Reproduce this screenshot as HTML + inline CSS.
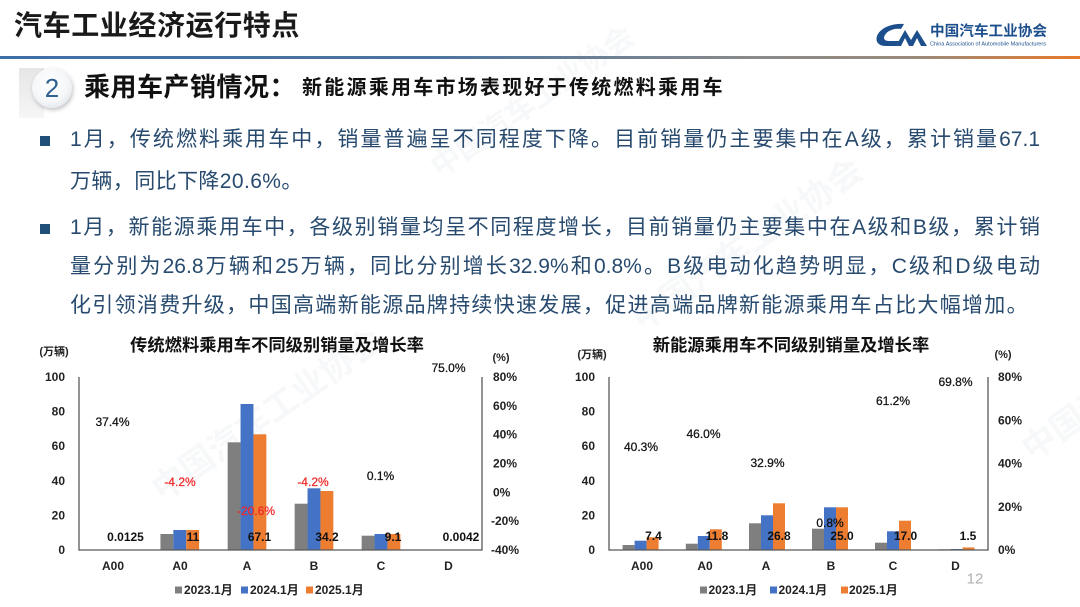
<!DOCTYPE html>
<html><head><meta charset="utf-8">
<style>
*{margin:0;padding:0;box-sizing:border-box;}
html,body{width:1080px;height:607px;overflow:hidden;background:#fff;}
body{position:relative;font-family:"Liberation Sans","Noto Sans CJK SC",sans-serif;}
.abs{position:absolute;line-height:1;white-space:nowrap;}
.body{position:absolute;left:70px;width:970px;font-size:21px;line-height:1;color:#274a6e;}
.just{text-align:justify;text-align-last:justify;}
.bul{position:absolute;left:40px;width:10px;height:10px;background:#1f4e79;}
.wm{position:absolute;color:rgba(120,135,150,0.06);font-weight:bold;white-space:nowrap;transform-origin:left top;}
</style></head>
<body>
<!-- watermarks -->
<div class="wm" style="left:140px;top:470px;font-size:34px;transform:rotate(-35deg);">中国汽车工业协会</div>
<div class="wm" style="left:620px;top:300px;font-size:34px;transform:rotate(-35deg);">中国汽车工业协会</div>
<div class="wm" style="left:420px;top:150px;font-size:30px;transform:rotate(-35deg);">中国汽车工业协会</div>
<div class="wm" style="left:1010px;top:430px;font-size:34px;transform:rotate(-35deg);">中国汽车</div>

<!-- header -->
<div class="abs" style="left:14px;top:12px;font-size:28px;font-weight:bold;color:#1a1a1a;letter-spacing:0.6px;">汽车工业经济运行特点</div>
<div style="position:absolute;left:0;top:56px;width:1080px;height:3px;background:linear-gradient(90deg,#3e6fa6 0%,#4c74a0 40%,#8a8a8a 70%,#9a8a7a 85%,#e8792a 100%);"></div>

<!-- logo -->
<svg style="position:absolute;left:874px;top:18px;" width="180" height="34" viewBox="0 0 180 34">
  <path d="M30,6 C18,5 6,10 3,18 C1,24 5,28 12,28 L22,28 L25,23 L15,23 C10,23 9,20 11,17 C14,12 21,10 27,11 Z" fill="#1c4f8c"/>
  <path d="M22,28 L31,12 L37,22 L43,12 L53,28 L47,28 L43,20 L39,28 L35,28 L31,20 L27,28 Z" fill="#1c4f8c"/>
  <text x="56" y="18" font-family="Liberation Sans, Noto Sans CJK SC, sans-serif" font-size="14.5" font-weight="bold" fill="#1c4f8c" textLength="117" lengthAdjust="spacingAndGlyphs">中国汽车工业协会</text>
  <text x="56" y="27.5" font-family="Liberation Sans, sans-serif" font-size="5" fill="#1c4f8c" textLength="116" lengthAdjust="spacingAndGlyphs">China Association of Automobile Manufacturers</text>
</svg>

<!-- badge -->
<div style="position:absolute;left:19px;top:68px;width:25px;height:50px;background:linear-gradient(180deg,#e6e6e6,#f6f6f6);"></div>
<div style="position:absolute;left:32px;top:68px;width:40px;height:40px;border-radius:50%;background:radial-gradient(circle at 45% 40%,#ffffff 0%,#f4f6f8 55%,#d5dbe2 100%);box-shadow:1px 2px 4px rgba(0,0,0,0.25);"></div>
<div class="abs" style="left:32px;top:75px;width:40px;text-align:center;font-size:26px;color:#2e6090;">2</div>

<!-- section title -->
<div class="abs" style="left:84px;top:74px;font-size:26px;font-weight:bold;color:#111;letter-spacing:0.5px;">乘用车产销情况：</div>
<div class="abs" style="left:302px;top:78px;font-size:20px;font-weight:bold;color:#111;letter-spacing:2.25px;">新能源乘用车市场表现好于传统燃料乘用车</div>

<!-- bullets -->
<div class="bul" style="top:136px;"></div>
<div class="body just" style="top:129px;">1月，传统燃料乘用车中，销量普遍呈不同程度下降。目前销量仍主要集中在A级，累计销量67.1</div>
<div class="body" style="top:171px;letter-spacing:0.4px;">万辆，同比下降20.6%。</div>

<div class="bul" style="top:224px;"></div>
<div class="body just" style="top:217px;">1月，新能源乘用车中，各级别销量均呈不同程度增长，目前销量仍主要集中在A级和B级，累计销</div>
<div class="body just" style="top:256px;">量分别为26.8万辆和25万辆，同比分别增长32.9%和0.8%。B级电动化趋势明显，C级和D级电动</div>
<div class="body" style="top:295px;letter-spacing:1.3px;">化引领消费升级，中国高端新能源品牌持续快速发展，促进高端品牌新能源乘用车占比大幅增加。</div>

<!-- charts -->
<svg style="position:absolute;left:0;top:0;" width="1080" height="607" viewBox="0 0 1080 607" font-family="Liberation Sans, Noto Sans CJK SC, sans-serif">
<g dominant-baseline="central">
  <!-- LEFT CHART -->
  <text x="277" y="345" text-anchor="middle" font-size="17.3" font-weight="bold" fill="#111">传统燃料乘用车不同级别销量及增长率</text>
  <text x="54" y="352" text-anchor="middle" font-size="11" font-weight="bold" fill="#222">(万辆)</text>
  <text x="501" y="358" text-anchor="middle" font-size="11" font-weight="bold" fill="#222">(%)</text>
  <g font-size="12" font-weight="bold" fill="#222" text-anchor="end">
    <text x="65" y="377">100</text><text x="65" y="411.6">80</text><text x="65" y="446.2">60</text>
    <text x="65" y="480.8">40</text><text x="65" y="515.4">20</text><text x="65" y="550">0</text>
  </g>
  <g font-size="12" font-weight="bold" fill="#222" text-anchor="start">
    <text x="493" y="377">80%</text><text x="493" y="405.8">60%</text><text x="493" y="434.7">40%</text>
    <text x="493" y="463.5">20%</text><text x="493" y="492.3">0%</text><text x="491" y="521.2">-20%</text><text x="491" y="550">-40%</text>
  </g>
  <!-- bars -->
  <g>
    <rect x="160.45" y="534" width="12.9" height="16" fill="#7f7f7f"/>
    <rect x="173.35" y="530" width="12.9" height="20" fill="#4472c4"/>
    <rect x="186.25" y="530" width="12.9" height="20" fill="#ed7d31"/>
    <rect x="227.65" y="442.3" width="12.9" height="107.7" fill="#7f7f7f"/>
    <rect x="240.55" y="404" width="12.9" height="146" fill="#4472c4"/>
    <rect x="253.45" y="434.3" width="12.9" height="115.7" fill="#ed7d31"/>
    <rect x="294.65" y="503.7" width="12.9" height="46.3" fill="#7f7f7f"/>
    <rect x="307.55" y="488.3" width="12.9" height="61.7" fill="#4472c4"/>
    <rect x="320.45" y="491" width="12.9" height="59" fill="#ed7d31"/>
    <rect x="361.65" y="535.7" width="12.9" height="14.3" fill="#7f7f7f"/>
    <rect x="374.55" y="534" width="12.9" height="16" fill="#4472c4"/>
    <rect x="387.45" y="534" width="12.9" height="16" fill="#ed7d31"/>
  </g>
  <g stroke="#595959" stroke-width="1.3" fill="none">
    <line x1="79" y1="377" x2="79" y2="550.6"/>
    <line x1="482" y1="377" x2="482" y2="550.6"/>
    <line x1="79" y1="550" x2="482" y2="550"/>
  </g>
  <g font-size="12" font-weight="bold" fill="#111" text-anchor="middle">
    <text x="125.5" y="537">0.0125</text><text x="193" y="537">11</text><text x="259.5" y="537">67.1</text>
    <text x="327" y="537">34.2</text><text x="393" y="537">9.1</text><text x="461" y="537">0.0042</text>
  </g>
  <g font-size="12" fill="#111" stroke="#111" stroke-width="0.25" text-anchor="middle">
    <text x="112.5" y="422">37.4%</text>
    <text x="180" y="482" fill="#f02828" stroke="#f02828">-4.2%</text>
    <text x="256" y="511" fill="#f02828" stroke="#f02828">-20.6%</text>
    <text x="313" y="482" fill="#f02828" stroke="#f02828">-4.2%</text>
    <text x="380.5" y="476">0.1%</text>
    <text x="448.5" y="368">75.0%</text>
  </g>
  <g font-size="12" font-weight="bold" fill="#222" text-anchor="middle">
    <text x="113" y="566">A00</text><text x="180" y="566">A0</text><text x="247" y="566">A</text>
    <text x="314" y="566">B</text><text x="381" y="566">C</text><text x="448.5" y="566">D</text>
  </g>
  <g font-size="12" font-weight="bold" fill="#222">
    <rect x="175" y="586.5" width="7" height="7" fill="#7f7f7f"/><text x="184" y="590">2023.1月</text>
    <rect x="241" y="586.5" width="7" height="7" fill="#4472c4"/><text x="250" y="590">2024.1月</text>
    <rect x="306" y="586.5" width="7" height="7" fill="#ed7d31"/><text x="315" y="590">2025.1月</text>
  </g>

  <!-- RIGHT CHART -->
  <text x="791" y="345" text-anchor="middle" font-size="17.3" font-weight="bold" fill="#111">新能源乘用车不同级别销量及增长率</text>
  <text x="592" y="355" text-anchor="middle" font-size="11" font-weight="bold" fill="#222">(万辆)</text>
  <text x="1003" y="355" text-anchor="middle" font-size="11" font-weight="bold" fill="#222">(%)</text>
  <g font-size="12" font-weight="bold" fill="#222" text-anchor="end">
    <text x="595" y="377">100</text><text x="595" y="411.6">80</text><text x="595" y="446.2">60</text>
    <text x="595" y="480.8">40</text><text x="595" y="515.4">20</text><text x="595" y="550">0</text>
  </g>
  <g font-size="12" font-weight="bold" fill="#222" text-anchor="start">
    <text x="998" y="377">80%</text><text x="998" y="420.25">60%</text><text x="998" y="463.5">40%</text>
    <text x="998" y="506.75">20%</text><text x="998" y="550">0%</text>
  </g>
  <g>
    <rect x="622.6" y="545" width="12" height="5" fill="#7f7f7f"/>
    <rect x="634.6" y="540.7" width="12" height="9.3" fill="#4472c4"/>
    <rect x="646.6" y="537.3" width="12" height="12.7" fill="#ed7d31"/>
    <rect x="685.8" y="543.7" width="12" height="6.3" fill="#7f7f7f"/>
    <rect x="697.8" y="536" width="12" height="14" fill="#4472c4"/>
    <rect x="709.8" y="529.3" width="12" height="20.7" fill="#ed7d31"/>
    <rect x="749" y="523.3" width="12" height="26.7" fill="#7f7f7f"/>
    <rect x="761" y="515.3" width="12" height="34.7" fill="#4472c4"/>
    <rect x="773" y="503.3" width="12" height="46.7" fill="#ed7d31"/>
    <rect x="812" y="528.7" width="12" height="21.3" fill="#7f7f7f"/>
    <rect x="824" y="507.3" width="12" height="42.7" fill="#4472c4"/>
    <rect x="836" y="507.3" width="12" height="42.7" fill="#ed7d31"/>
    <rect x="875" y="542.7" width="12" height="7.3" fill="#7f7f7f"/>
    <rect x="887" y="531.3" width="12" height="18.7" fill="#4472c4"/>
    <rect x="899" y="520.7" width="12" height="29.3" fill="#ed7d31"/>
    <rect x="938.5" y="549.3" width="12" height="0.7" fill="#7f7f7f"/>
    <rect x="950.5" y="549" width="12" height="1" fill="#4472c4"/>
    <rect x="962.5" y="547.4" width="12" height="2.6" fill="#ed7d31"/>
  </g>
  <g stroke="#595959" stroke-width="1.3" fill="none">
    <line x1="609" y1="377" x2="609" y2="550.6"/>
    <line x1="988" y1="377" x2="988" y2="550.6"/>
    <line x1="609" y1="550" x2="988" y2="550"/>
  </g>
  <g font-size="12" font-weight="bold" fill="#111" text-anchor="middle">
    <text x="653.5" y="536">7.4</text><text x="717" y="536">11.8</text><text x="779" y="536">26.8</text>
    <text x="842" y="536">25.0</text><text x="905.5" y="536">17.0</text><text x="968" y="536">1.5</text>
  </g>
  <g font-size="12" fill="#111" stroke="#111" stroke-width="0.25" text-anchor="middle">
    <text x="641" y="447">40.3%</text>
    <text x="703.5" y="434">46.0%</text>
    <text x="767.5" y="463">32.9%</text>
    <text x="830" y="523">0.8%</text>
    <text x="893" y="401">61.2%</text>
    <text x="955.5" y="382">69.8%</text>
  </g>
  <g font-size="12" font-weight="bold" fill="#222" text-anchor="middle">
    <text x="642" y="566">A00</text><text x="705" y="566">A0</text><text x="766" y="566">A</text>
    <text x="831" y="566">B</text><text x="893" y="566">C</text><text x="955.5" y="566">D</text>
  </g>
  <g font-size="12" font-weight="bold" fill="#222">
    <rect x="700" y="586.5" width="7" height="7" fill="#7f7f7f"/><text x="708.5" y="590">2023.1月</text>
    <rect x="770" y="586.5" width="7" height="7" fill="#4472c4"/><text x="778.5" y="590">2024.1月</text>
    <rect x="841" y="586.5" width="7" height="7" fill="#ed7d31"/><text x="849" y="590">2025.1月</text>
  </g>
  <text x="975" y="579" text-anchor="middle" font-size="15" fill="#b0b0b0">12</text>
</g>
</svg>
</body></html>
